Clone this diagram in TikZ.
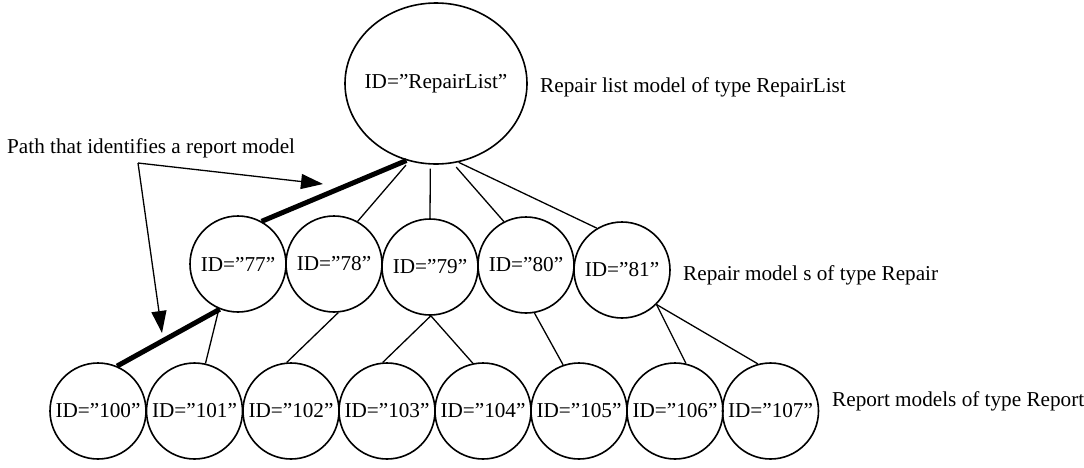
\documentclass[tikz,border=0pt]{standalone}
\usepackage{fontspec}
\setmainfont{Liberation Serif}
\usetikzlibrary{shapes.geometric,arrows.meta}

% the text of a shape node is set in a zero-width box, so the outline keeps its given size
\newcommand{\idtext}[1]{\makebox[0pt]{#1}}

\tikzset{
  txt/.style={font=\fontsize{21.2pt}{25pt}\selectfont, inner sep=0pt},
  model/.style={txt, circle, draw, line width=1.6pt, minimum size=96pt},
  rootmodel/.style={txt, ellipse, draw, line width=1.6pt, minimum width=182pt, minimum height=161pt},
  link/.style={line width=1.3pt},
  pathlink/.style={line width=5pt},
  pointer/.style={line width=1.3pt, -{Triangle[length=22pt,width=15pt]}},
  caption/.style={txt, anchor=base west}
}

\begin{document}
\begin{tikzpicture}[x=1pt, y=-1pt]
  \useasboundingbox (0,0) rectangle (1084,467);

  % root of the tree
  \node[rootmodel] (root) at (436,83.5) {\idtext{ID=”RepairList”}};

  % repair models
  \node[model] (m77) at (238,264) {\idtext{ID=”77”}};
  \node[model] (m78) at (334,264) {\idtext{ID=”78”}};
  \node[model] (m79) at (430,267) {\idtext{ID=”79”}};
  \node[model] (m80) at (526,265) {\idtext{ID=”80”}};
  \node[model] (m81) at (622,270) {\idtext{ID=”81”}};

  % report models
  \node[model] (r100) at (98,411)    {\idtext{ID=”100”}};
  \node[model] (r101) at (194.5,411) {\idtext{ID=”101”}};
  \node[model] (r102) at (291,411)   {\idtext{ID=”102”}};
  \node[model] (r103) at (387,411)   {\idtext{ID=”103”}};
  \node[model] (r104) at (483,411)   {\idtext{ID=”104”}};
  \node[model] (r105) at (579,411)   {\idtext{ID=”105”}};
  \node[model] (r106) at (675,411)   {\idtext{ID=”106”}};
  \node[model] (r107) at (770.5,411) {\idtext{ID="107”}};

  % captions
  \node[caption] (croot) at (540,92)  {Repair list model of type RepairList};
  \node[caption] (cmid)  at (683,280) {Repair model s of type Repair};
  \node[caption] (cbot)  at (832,406) {Report models of type Report};
  \node[caption] (cpath) at (7,153)   {Path that identifies a report model};

  % root to repair models
  \draw[pathlink] (root.249.5) -- (m77.61.7);
  \draw[link, shorten <=5pt] (root.251) -- (m78.61.4);
  \draw[link, shorten <=4pt] (root.266) -- (m79.north);
  \draw[link, shorten <=5pt] (root.282) -- (m80.117.7);
  \draw[link] (root.286) -- (m81.121.7);

  % repair models to report models
  \draw[pathlink] (m77.248) -- (r100.67.4);
  \draw[link] (m77.247.4) -- (r101.77);
  \draw[link] (m78.275) -- (r102.95);
  \draw[link] (m79.271) -- (r103.95);
  \draw[link] (m79.271) -- (r104.102);
  \draw[link] (m80.280) -- (r105.109.6);
  \draw[link] (m81.315) -- (r106.77);
  \draw[link] (m81.315) -- (r107.105);

  % pointers from the caption to the highlighted path
  \coordinate (fork) at (138,163);
  \coordinate (tipa) at (323,184);
  \coordinate (tipb) at (162,333);
  \draw[pointer] (fork) -- (tipa);
  \draw[pointer] (fork) -- (tipb);
\end{tikzpicture}
\end{document}
